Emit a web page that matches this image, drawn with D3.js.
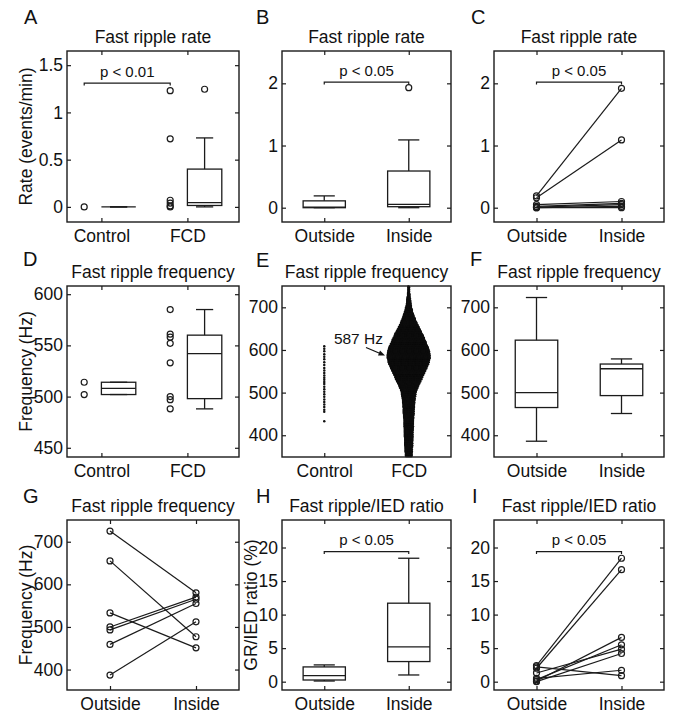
<!DOCTYPE html>
<html>
<head>
<meta charset="utf-8">
<script src="https://cdn.jsdelivr.net/npm/d3@7"></script>
<style>
  body { margin: 0; background: #ffffff; }
  svg { display: block; }
</style>
</head>
<body>
<svg id="fig" width="675" height="715"></svg>
<script>
// ---------------- data ----------------
const groupsFCD = ["Control", "FCD"];
const groupsSite = ["Outside", "Inside"];

// A: fast ripple rate (events/min), Control vs FCD
const rateTicksA = [0, 0.5, 1, 1.5];
const rateControl = [0];
const rateFCD = [1.23, 0.72, 0.07, 0.04, 0.01, 0.0];
const rateBoxControl = { lo: 0, q1: 0, med: 0, q3: 0, hi: 0, out: [] };
const rateBoxFCD = { lo: 0, q1: 0.015, med: 0.045, q3: 0.40, hi: 0.73, out: [1.245] };
const pRateA = "p < 0.01";

// B/C: fast ripple rate, outside vs inside the lesion
const rateTicksBC = [0, 1, 2];
const rateBoxOutside = { lo: 0, q1: 0, med: 0.01, q3: 0.11, hi: 0.19, out: [] };
const rateBoxInside = { lo: 0, q1: 0.016, med: 0.055, q3: 0.59, hi: 1.09, out: [1.93] };
const rateOutside = [0.19, 0.16, 0.05, 0.02, 0.0, 0.0, 0.01];
const rateInside  = [1.92, 1.09, 0.10, 0.07, 0.02, 0.0, 0.05];
const pRateBC = "p < 0.05";

// D: fast ripple frequency (Hz), Control vs FCD
const freqTicksD = [450, 500, 550, 600];
const freqControl = [514, 502];
const freqFCD = [585, 561, 558, 552, 533, 500, 497, 488];
const freqBoxControl = { lo: 502, q1: 502, med: 508, q3: 514, hi: 514, out: [] };
const freqBoxFCD = { lo: 488, q1: 498, med: 542, q3: 560, hi: 585, out: [] };

// E: all detected fast ripples (Hz)
const freqTicksEFG = [400, 500, 600, 700];
const eventsControl = [609, 603, 597, 590, 584, 578, 571, 565, 558, 552, 546, 540, 535,
                       530, 525, 520, 514, 508, 502, 496, 490, 484, 478, 472, 466, 460, 455, 433];
const fcdBinCenters = d3.range(352.5, 750, 5);          // 5-Hz bins, 350-750 Hz
const fcdCounts = [18, 18, 19, 19, 20, 21, 21, 22, 22, 23, 23, 23, 24, 24, 25, 25, 26, 26, 27, 28,
                   29, 29, 30, 31, 31, 33, 34, 35, 37, 39, 42, 46, 51, 56, 61, 67, 73, 78, 84, 90,
                   95, 101, 106, 111, 115, 118, 121, 121, 119, 117, 113, 109, 103, 98, 93, 88, 82, 77, 70, 64,
                   58, 52, 46, 41, 36, 31, 27, 23, 20, 17, 14, 12, 10, 9, 7, 6, 5, 3, 3, 3];
const fcdPeakHz = 587;

// F/G: fast ripple frequency, outside vs inside
const freqBoxOutside = { lo: 386, q1: 465, med: 500, q3: 623, hi: 723, out: [] };
const freqBoxInside  = { lo: 451, q1: 493, med: 556, q3: 567, hi: 579, out: [] };
const freqOutside = [725, 655, 533, 500, 493, 459, 387];
const freqInside  = [580, 477, 451, 570, 565, 555, 512];

// H/I: fast ripple / IED ratio (%)
const ratioTicks = [0, 5, 10, 15, 20];
const ratioBoxOutside = { lo: 0.1, q1: 0.25, med: 0.9, q3: 2.2, hi: 2.5, out: [] };
const ratioBoxInside  = { lo: 1.0, q1: 3.0, med: 5.2, q3: 11.7, hi: 18.4, out: [] };
const ratioOutside = [2.4, 2.0, 2.2, 0.1, 0.3, 1.3, 0.0, 0.5];
const ratioInside  = [18.4, 16.7, 0.9, 6.6, 5.5, 4.85, 4.2, 1.7];
const pRatio = "p < 0.05";

// ---------------- layout ----------------
const FONT = "'Liberation Sans', Arial, Helvetica, sans-serif";
const INK = "#1b1b1b";
const COLS = [[67, 239], [282, 451], [494, 664]];
const ROWS = [[51, 222], [286, 457], [520, 690]];
const svg = d3.select("#fig");

function panel(o) {
  const [x0, x1] = COLS[o.col], [y0, y1] = ROWS[o.row];
  const x = d3.scaleLinear().domain(o.xDomain).range([x0, x1]);
  const y = d3.scaleLinear().domain(o.yDomain).range([y1, y0]);
  const g = svg.append("g");

  const axes = g.append("g").attr("font-family", FONT).attr("font-size", 17.5);
  axes.append("g").attr("transform", `translate(${x0},0)`)
    .call(d3.axisLeft(y).tickValues(o.yTicks).tickFormat(d3.format("")).tickSize(-4).tickSizeOuter(0).tickPadding(4));
  axes.append("g").attr("transform", `translate(${x1},0)`)
    .call(d3.axisRight(y).tickValues(o.yTicks).tickFormat("").tickSize(-4).tickSizeOuter(0));
  axes.append("g").attr("transform", `translate(0,${y1})`)
    .call(d3.axisBottom(x).tickValues([1, 2]).tickFormat((d, i) => o.xLabels[i]).tickSize(-4).tickSizeOuter(0).tickPadding(8));
  axes.append("g").attr("transform", `translate(0,${y0})`)
    .call(d3.axisTop(x).tickValues([1, 2]).tickFormat("").tickSize(-4).tickSizeOuter(0));
  axes.selectAll(".domain").remove();
  axes.selectAll("g").attr("font-family", FONT).attr("font-size", 17.5);
  axes.selectAll(".tick line").attr("stroke", INK).attr("stroke-width", 1.2);
  axes.selectAll(".tick text").attr("fill", "#111");

  const plot = g.append("g");

  g.append("rect").attr("x", x0).attr("y", y0).attr("width", x1 - x0).attr("height", y1 - y0)
    .attr("fill", "none").attr("stroke", INK).attr("stroke-width", 1.4);

  g.append("text").attr("x", (x0 + x1) / 2).attr("y", y0 - 8).attr("text-anchor", "middle")
    .attr("font-family", FONT).attr("font-size", 17.5).attr("fill", "#111").text(o.title);

  g.append("text").attr("x", o.letterPos[0]).attr("y", o.letterPos[1])
    .attr("font-family", FONT).attr("font-size", 20).attr("fill", "#111").text(o.letter);

  if (o.yLabel) {
    g.append("text").attr("transform", `translate(${o.yLabelX},${(y0 + y1) / 2}) rotate(-90)`)
      .attr("text-anchor", "middle").attr("font-family", FONT).attr("font-size", 17.5)
      .attr("fill", "#111").text(o.yLabel);
  }
  return { x, y, g: plot };
}

function circles(p, xs, ys, r) {
  p.g.append("g").selectAll("circle").data(ys).join("circle")
    .attr("cx", (d, i) => p.x(typeof xs === "number" ? xs : xs[i]))
    .attr("cy", d => p.y(d)).attr("r", r || 3)
    .attr("fill", "none").attr("stroke", INK).attr("stroke-width", 1.2);
}

function box(p, xc, s, halfW) {
  const g = p.g.append("g").attr("stroke", INK).attr("stroke-width", 1.3).attr("fill", "none");
  const xl = p.x(xc - halfW), xr = p.x(xc + halfW), xm = p.x(xc);
  const cap = (xr - xl) / 4;
  g.append("line").attr("x1", xm).attr("x2", xm).attr("y1", p.y(s.q3)).attr("y2", p.y(s.hi));
  g.append("line").attr("x1", xm).attr("x2", xm).attr("y1", p.y(s.q1)).attr("y2", p.y(s.lo));
  g.append("line").attr("x1", xm - cap).attr("x2", xm + cap).attr("y1", p.y(s.hi)).attr("y2", p.y(s.hi));
  g.append("line").attr("x1", xm - cap).attr("x2", xm + cap).attr("y1", p.y(s.lo)).attr("y2", p.y(s.lo));
  g.append("rect").attr("x", xl).attr("width", xr - xl)
    .attr("y", p.y(s.q3)).attr("height", Math.max(0, p.y(s.q1) - p.y(s.q3)));
  g.append("line").attr("x1", xl).attr("x2", xr).attr("y1", p.y(s.med)).attr("y2", p.y(s.med));
  circles(p, xc, s.out);
}

function pairs(p, a, b) {
  p.g.append("g").selectAll("line").data(a).join("line")
    .attr("x1", p.x(1)).attr("x2", p.x(2))
    .attr("y1", d => p.y(d)).attr("y2", (d, i) => p.y(b[i]))
    .attr("stroke", INK).attr("stroke-width", 1.2);
  circles(p, 1, a);
  circles(p, 2, b);
}

function bracket(p, xa, xb, yv, label) {
  const yy = p.y(yv), x1 = p.x(xa), x2 = p.x(xb);
  p.g.append("path").attr("d", `M${x1},${yy + 2.5}V${yy}H${x2}V${yy + 2.5}`)
    .attr("fill", "none").attr("stroke", INK).attr("stroke-width", 1.2);
  p.g.append("text").attr("x", (x1 + x2) / 2).attr("y", yy - 6.5).attr("text-anchor", "middle")
    .attr("font-family", FONT).attr("font-size", 15).attr("fill", "#111").text(label);
}

// ---------------- A ----------------
const pA = panel({ col: 0, row: 0, xDomain: [0.6, 2.6], yDomain: [-0.16, 1.65], yTicks: rateTicksA,
  xLabels: groupsFCD, title: "Fast ripple rate", letter: "A", letterPos: [24, 24],
  yLabel: "Rate (events/min)", yLabelX: 32 });
circles(pA, 0.8, rateControl);
circles(pA, 1.8, rateFCD);
box(pA, 1.2, rateBoxControl, 0.2);
box(pA, 2.2, rateBoxFCD, 0.2);
bracket(pA, 0.8, 1.8, 1.31, pRateA);

// ---------------- B ----------------
const pB = panel({ col: 1, row: 0, xDomain: [0.5, 2.5], yDomain: [-0.23, 2.52], yTicks: rateTicksBC,
  xLabels: groupsSite, title: "Fast ripple rate", letter: "B", letterPos: [256, 24] });
box(pB, 1, rateBoxOutside, 0.25);
box(pB, 2, rateBoxInside, 0.25);
bracket(pB, 1, 2, 2.02, pRateBC);

// ---------------- C ----------------
const pC = panel({ col: 2, row: 0, xDomain: [0.5, 2.5], yDomain: [-0.23, 2.52], yTicks: rateTicksBC,
  xLabels: groupsSite, title: "Fast ripple rate", letter: "C", letterPos: [471, 24] });
pairs(pC, rateOutside, rateInside);
bracket(pC, 1, 2, 2.02, pRateBC);

// ---------------- D ----------------
const pD = panel({ col: 0, row: 1, xDomain: [0.6, 2.6], yDomain: [441, 608], yTicks: freqTicksD,
  xLabels: groupsFCD, title: "Fast ripple frequency", letter: "D", letterPos: [23, 266],
  yLabel: "Frequency (Hz)", yLabelX: 32 });
circles(pD, 0.8, freqControl);
circles(pD, 1.8, freqFCD);
box(pD, 1.2, freqBoxControl, 0.2);
box(pD, 2.2, freqBoxFCD, 0.2);

// ---------------- E ----------------
const pE = panel({ col: 1, row: 1, xDomain: [0.5, 2.5], yDomain: [349, 750], yTicks: freqTicksEFG,
  xLabels: groupsFCD, title: "Fast ripple frequency", letter: "E", letterPos: [256, 267] });
const DOT_R = 1.25, STEP = 0.7, ROWS_PER_BIN = 2;
pE.g.append("g").selectAll("circle").data(eventsControl).join("circle")
  .attr("cx", pE.x(1)).attr("cy", d => pE.y(d)).attr("r", DOT_R).attr("fill", "#111");
// one dot per event, packed side by side within its frequency bin
const fcdDots = [];
fcdCounts.forEach((n, i) => {
  const c = fcdBinCenters[i];
  const yHi = pE.y(c + 2.5), yLo = pE.y(c - 2.5);
  const perRow = Math.ceil(n / ROWS_PER_BIN);
  for (let k = 0; k < n; k++) {
    const row = k % ROWS_PER_BIN, j = Math.floor(k / ROWS_PER_BIN);
    fcdDots.push({
      x: pE.x(2) + (j - (perRow - 1) / 2) * STEP,
      y: yLo + (yHi - yLo) * (row + 0.5) / ROWS_PER_BIN
    });
  }
});
pE.g.append("g").selectAll("circle").data(fcdDots).join("circle")
  .attr("cx", d => d.x).attr("cy", d => d.y).attr("r", DOT_R).attr("fill", "#0d0d0d");
// annotate the modal frequency
const peakHalf = (Math.ceil(d3.max(fcdCounts) / ROWS_PER_BIN) - 1) / 2 * STEP + DOT_R;
const tip = [pE.x(2) - peakHalf - 1.5, pE.y(fcdPeakHz)];
const tail = [tip[0] - 19, tip[1] - 8];
const ang = Math.atan2(tip[1] - tail[1], tip[0] - tail[0]);
const ah = 6.5, aw = 2.6;
pE.g.append("line").attr("x1", tail[0]).attr("y1", tail[1])
  .attr("x2", tip[0] - Math.cos(ang) * ah * 0.8).attr("y2", tip[1] - Math.sin(ang) * ah * 0.8)
  .attr("stroke", "#111").attr("stroke-width", 1.3);
const bx = tip[0] - Math.cos(ang) * ah, by = tip[1] - Math.sin(ang) * ah;
pE.g.append("path")
  .attr("d", `M${tip[0]},${tip[1]}L${bx - Math.sin(ang) * aw},${by + Math.cos(ang) * aw}L${bx + Math.sin(ang) * aw},${by - Math.cos(ang) * aw}Z`)
  .attr("fill", "#111");
pE.g.append("text").attr("x", tip[0] - 2).attr("y", tip[1] - 12).attr("text-anchor", "end")
  .attr("font-family", FONT).attr("font-size", 15.5).attr("fill", "#111").text(`${fcdPeakHz} Hz`);

// ---------------- F ----------------
const pF = panel({ col: 2, row: 1, xDomain: [0.5, 2.5], yDomain: [349, 750], yTicks: freqTicksEFG,
  xLabels: groupsSite, title: "Fast ripple frequency", letter: "F", letterPos: [470, 266] });
box(pF, 1, freqBoxOutside, 0.25);
box(pF, 2, freqBoxInside, 0.25);

// ---------------- G ----------------
const pG = panel({ col: 0, row: 2, xDomain: [0.5, 2.5], yDomain: [352, 751], yTicks: freqTicksEFG,
  xLabels: groupsSite, title: "Fast ripple frequency", letter: "G", letterPos: [23, 503],
  yLabel: "Frequency (Hz)", yLabelX: 32 });
pairs(pG, freqOutside, freqInside);

// ---------------- H ----------------
const pH = panel({ col: 1, row: 2, xDomain: [0.5, 2.5], yDomain: [-1.24, 24.1], yTicks: ratioTicks,
  xLabels: groupsSite, title: "Fast ripple/IED ratio", letter: "H", letterPos: [256, 503],
  yLabel: "GR/IED ratio (%)", yLabelX: 257 });
box(pH, 1, ratioBoxOutside, 0.25);
box(pH, 2, ratioBoxInside, 0.25);
bracket(pH, 1, 2, 19.4, pRatio);

// ---------------- I ----------------
const pI = panel({ col: 2, row: 2, xDomain: [0.5, 2.5], yDomain: [-1.24, 24.1], yTicks: ratioTicks,
  xLabels: groupsSite, title: "Fast ripple/IED ratio", letter: "I", letterPos: [472, 503] });
pairs(pI, ratioOutside, ratioInside);
bracket(pI, 1, 2, 19.4, pRatio);
</script>
</body>
</html>
